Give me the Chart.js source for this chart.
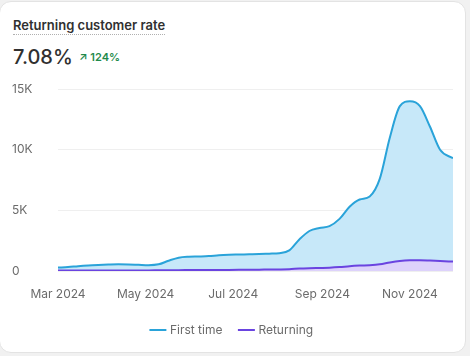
<!DOCTYPE html>
<html>
<head>
<meta charset="utf-8">
<script src="https://cdn.jsdelivr.net/npm/chart.js@4.4.1/dist/chart.umd.min.js"></script>
<style>
  html, body { margin: 0; padding: 0; background: #f1f1f1; width: 470px; height: 356px; overflow: hidden; font-family: Inter, "Noto Sans", sans-serif; }
  .card { position: absolute; left: -1px; top: 1px; width: 467px; height: 352px; background: #fff; border: 1px solid #e3e3e3; border-radius: 12px; box-sizing: border-box; }
  .title { position: absolute; left: 13px; top: 17px; font-size: 13px; font-weight: 600; color: #303030; border-bottom: 1.5px dotted #b0b0b0; padding-bottom: 1px; line-height: 16px; }
  .value { position: absolute; left: 13px; top: 45px; font-size: 20px; font-weight: 500; color: #303030; line-height: 24px; }
  .delta { position: absolute; left: 79px; top: 50px; font-size: 11px; font-weight: 600; color: #1f8a4c; line-height: 14px; }
  .wrap { position: absolute; left: 0; top: 74px; width: 470px; height: 276px; }
</style>
</head>
<body>
<div class="card"></div>
<div class="title">Returning customer rate</div>
<div class="value">7.08%</div>
<div class="delta">&#8599; 124%</div>
<div class="wrap"><canvas id="c"></canvas></div>
<script>
// days since 1 Mar 2024
const days = [0,7,14,21,28,35,42,49,56,63,70,77,84,91,98,105,112,119,126,133,140,147,154,161,168,175,182,189,196,203,210,217,224,231,238,245,252,259,266,275];
const firstTime = [280,320,400,460,500,530,550,540,510,480,550,850,1100,1180,1200,1230,1300,1340,1360,1380,1400,1430,1470,1700,2600,3300,3550,3700,4300,5300,5900,6150,7600,11000,13600,14000,13600,11900,10000,9300];
const returning = [40,40,45,45,50,50,50,50,50,50,55,60,70,75,80,80,85,90,95,100,110,120,130,150,200,230,250,270,320,400,450,480,550,700,820,880,890,860,820,780];
const tickDays = [0,61,122,184,245];
const tickLabels = ['Mar 2024','May 2024','Jul 2024','Sep 2024','Nov 2024'];
const yTicks = [0,5000,10000,15000];
const yLabels = ['0','5K','10K','15K'];

const pts = arr => arr.map((v,i) => ({x: days[i], y: v}));

new Chart(document.getElementById('c'), {
  type: 'line',
  data: {
    datasets: [
      { label: 'First time', data: pts(firstTime), borderColor: '#2aa3d9', backgroundColor: '#c7e8f9', fill: 'origin', borderWidth: 2, pointRadius: 0, cubicInterpolationMode: 'monotone', order: 2 },
      { label: 'Returning', data: pts(returning), borderColor: '#6a44e0', backgroundColor: '#ddd2fb', fill: 'origin', borderWidth: 2, pointRadius: 0, cubicInterpolationMode: 'monotone', order: 1 }
    ]
  },
  options: {
    responsive: true,
    maintainAspectRatio: false,
    animation: false,
    layout: { padding: { left: 12, right: 17, top: 0, bottom: 4 } },
    plugins: {
      tooltip: { enabled: false },
      legend: {
        position: 'bottom',
        labels: {
          usePointStyle: true, pointStyle: 'line', boxWidth: 12, boxHeight: 12,
          color: '#6b6b6b', font: { family: 'Inter', size: 12 }, padding: 18,
          sort: (a,b) => a.datasetIndex - b.datasetIndex
        }
      }
    },
    scales: {
      x: {
        type: 'linear', min: 0, max: 275,
        afterBuildTicks: s => { s.ticks = tickDays.map(v => ({value: v})); },
        afterFit: s => { s.height = 35; },
        ticks: { callback: (v) => tickLabels[tickDays.indexOf(v)], color: '#6b6b6b', font: { family: 'Inter', size: 12 }, padding: 16, maxRotation: 0, autoSkip: false },
        grid: { display: false, drawTicks: false },
        border: { display: false }
      },
      y: {
        min: 0, max: 15000,
        afterBuildTicks: s => { s.ticks = yTicks.map(v => ({value: v})); },
        afterFit: s => { s.width = 46; },
        ticks: { callback: (v) => yLabels[yTicks.indexOf(v)], color: '#6b6b6b', font: { family: 'Inter', size: 12 }, crossAlign: 'far', padding: 8 },
        grid: { color: '#efefef', drawTicks: false },
        border: { display: false }
      }
    }
  }
});
</script>
</body>
</html>
